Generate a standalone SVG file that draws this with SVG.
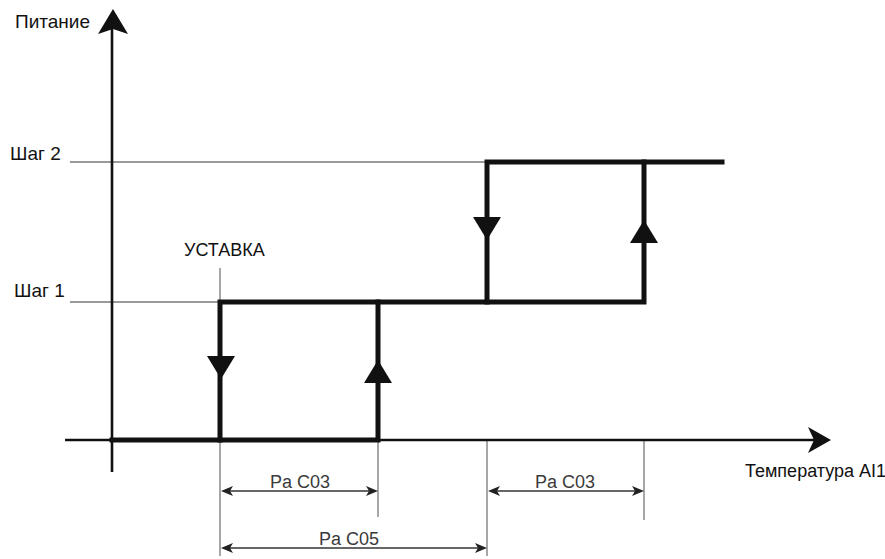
<svg xmlns="http://www.w3.org/2000/svg" width="885" height="559" viewBox="0 0 885 559">
<style>
text{font-family:"Liberation Sans",Arial,sans-serif;fill:#111}
.lbl{font-size:18px}
.lbl2{font-size:19px}
.dim{font-size:18px;fill:#3a3a3a}
.thin{stroke:#777;stroke-width:1.3;fill:none}
.axis{stroke:#111;stroke-width:2.6;fill:none}
.thick{stroke:#111;stroke-width:5;fill:none;stroke-linejoin:miter;stroke-linecap:square}
.dl{stroke:#333;stroke-width:1.3;fill:none}
.tri{fill:#111}
.dh{fill:#222}
</style>
<rect width="885" height="559" fill="#fff"/>
<g id="guides">
<line class="thin" x1="70" y1="162" x2="487" y2="162"/>
<line class="thin" x1="70" y1="302" x2="220" y2="302"/>
<line class="thin" x1="220" y1="268" x2="220" y2="556"/>
<line class="thin" x1="378" y1="440" x2="378" y2="517"/>
<line class="thin" x1="487" y1="440" x2="487" y2="556"/>
<line class="thin" x1="644" y1="440" x2="644" y2="520"/>
</g>
<g id="axes">
<line class="axis" x1="112" y1="472" x2="112" y2="25"/>
<path class="tri" d="M113,9 L128,34 L113,29 L98,34 Z"/>
<line class="axis" x1="65" y1="440" x2="815" y2="440"/>
<path class="tri" d="M831,440 L808,427 L814,440 L808,453 Z"/>
</g>
<g id="connectors">
<path class="thick" d="M112,440 H378 V302"/>
<path class="thick" d="M220,440 V302 H644 V162"/>
<path class="thick" d="M487,302 V162 H722"/>
<path class="tri" d="M207,356 L235,356 L221,379 Z"/>
<path class="tri" d="M364,383 L392,383 L378,360 Z"/>
<path class="tri" d="M473,217 L501,217 L487,240 Z"/>
<path class="tri" d="M630,243 L658,243 L644,220 Z"/>
<line class="dl" x1="224" y1="491" x2="374" y2="491"/>
<path class="dh" d="M221,491 L233,486 L230,491 L233,496 Z"/>
<path class="dh" d="M378,491 L366,486 L369,491 L366,496 Z"/>
<line class="dl" x1="491" y1="491" x2="640" y2="491"/>
<path class="dh" d="M488,491 L500,486 L497,491 L500,496 Z"/>
<path class="dh" d="M644,491 L632,486 L635,491 L632,496 Z"/>
<line class="dl" x1="224" y1="548" x2="483" y2="548"/>
<path class="dh" d="M221,548 L233,543 L230,548 L233,553 Z"/>
<path class="dh" d="M487,548 L475,543 L478,548 L475,553 Z"/>
</g>
<g id="labels">
<text class="lbl2" x="15" y="28">Питание</text>
<text class="lbl2" x="10" y="160">Шаг 2</text>
<text class="lbl2" x="14" y="297">Шаг 1</text>
<text class="lbl" x="184" y="256">УСТАВКА</text>
<text class="lbl" x="745" y="477">Температура AI1</text>
<text class="dim" x="300" y="488" text-anchor="middle">Pa C03</text>
<text class="dim" x="565" y="488" text-anchor="middle">Pa C03</text>
<text class="dim" x="349" y="545" text-anchor="middle">Pa C05</text>
</g>
</svg>
